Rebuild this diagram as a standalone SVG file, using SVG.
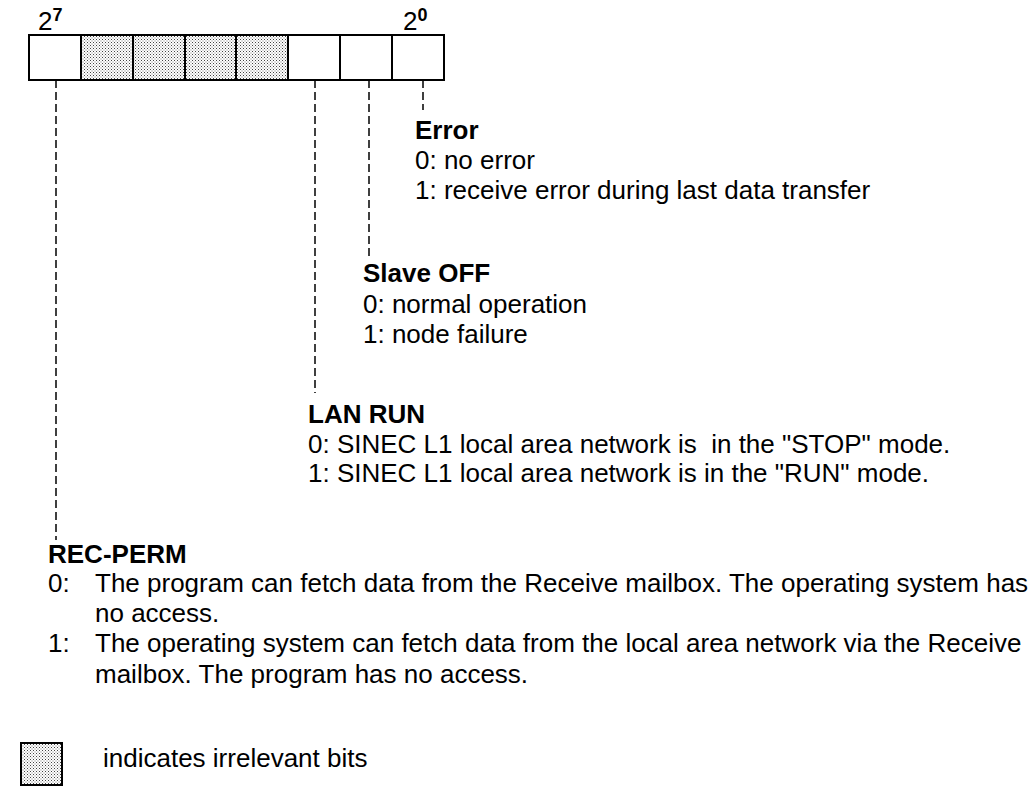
<svg xmlns="http://www.w3.org/2000/svg" width="1031" height="788" viewBox="0 0 1031 788">
<style>
text{font-family:"Liberation Sans",Arial,sans-serif;font-size:26px;fill:#000;white-space:pre}
.b{font-weight:bold}
.cell{fill:#fff;stroke:#000;stroke-width:2}
.dot{fill:url(#stip);stroke:#000;stroke-width:2}
.con{stroke:#000;stroke-width:1.5;stroke-dasharray:8 4;fill:none}
</style>
<defs>
<pattern id="stip" patternUnits="userSpaceOnUse" width="3" height="3">
<rect width="3" height="3" fill="#fff"/>
<rect x="0" y="0" width="1" height="1" fill="#444"/>
<rect x="1.5" y="1.5" width="1" height="1" fill="#777"/>
</pattern>
</defs>
<rect width="1031" height="788" fill="#fff"/>
<g id="register">
<text x="38" y="30">2<tspan class="b" font-size="18" dy="-9">7</tspan></text>
<text x="403" y="30">2<tspan class="b" font-size="18" dy="-9">0</tspan></text>
<rect class="cell" x="29" y="35" width="52" height="45"/>
<rect class="dot" x="81" y="35" width="52" height="45"/>
<rect class="dot" x="133" y="35" width="52" height="45"/>
<rect class="dot" x="185" y="35" width="51" height="45"/>
<rect class="dot" x="236" y="35" width="52" height="45"/>
<rect class="cell" x="288" y="35" width="52" height="45"/>
<rect class="cell" x="340" y="35" width="52" height="45"/>
<rect class="cell" x="392" y="35" width="52" height="45"/>
</g>
<g id="connectors">
<line class="con" x1="423" y1="80" x2="423" y2="110"/>
<line class="con" x1="369" y1="80" x2="369" y2="258"/>
<line class="con" x1="315" y1="80" x2="315" y2="393"/>
<line class="con" x1="56" y1="80" x2="56" y2="540"/>
</g>
<g id="error">
<text class="b" x="415" y="139">Error</text>
<text x="415" y="169">0: no error</text>
<text x="415" y="199">1: receive error during last data transfer</text>
</g>
<g id="slave-off">
<text class="b" x="363" y="282">Slave OFF</text>
<text x="363" y="313">0: normal operation</text>
<text x="363" y="343">1: node failure</text>
</g>
<g id="lan-run">
<text class="b" x="308" y="423">LAN RUN</text>
<text x="308" y="453">0: SINEC L1 local area network is  in the "STOP" mode.</text>
<text x="308" y="482">1: SINEC L1 local area network is in the "RUN" mode.</text>
</g>
<g id="rec-perm">
<text class="b" x="48" y="563">REC-PERM</text>
<text x="48" y="592">0:</text>
<text x="95" y="592">The program can fetch data from the Receive mailbox. The operating system has</text>
<text x="95" y="622">no access.</text>
<text x="48" y="652">1:</text>
<text x="95" y="652">The operating system can fetch data from the local area network via the Receive</text>
<text x="95" y="683">mailbox. The program has no access.</text>
</g>
<g id="legend">
<rect class="dot" x="21" y="743" width="41" height="42"/>
<text x="103" y="767">indicates irrelevant bits</text>
</g>
</svg>
